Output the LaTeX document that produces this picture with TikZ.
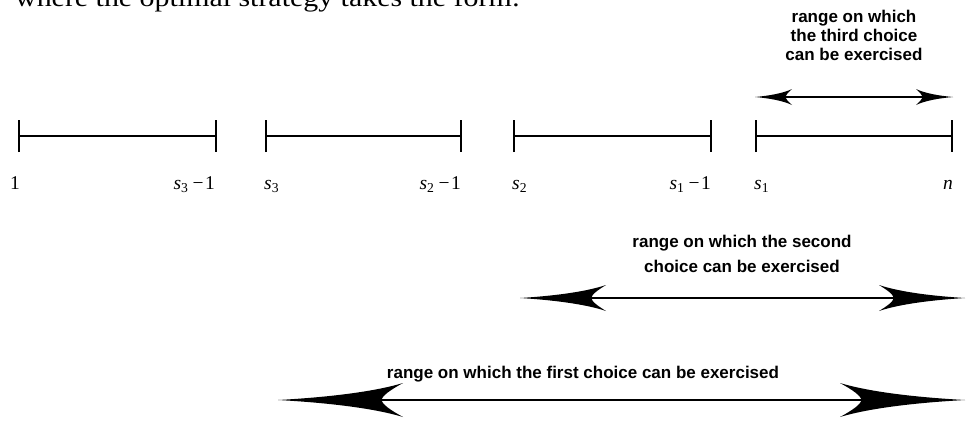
\documentclass[tikz,border=0pt]{standalone}
\usepackage{fontspec}
\setmainfont{Liberation Serif}
\newfontfamily\labfont{Liberation Sans}
\usetikzlibrary{arrows.meta}

\pgfdeclarearrow{
  name = Swoosh,
  parameters = {\the\pgfarrowlength,\the\pgfarrowwidth},
  setup code = {
    \pgfarrowssettipend{0pt}
    \pgfarrowssetbackend{-\pgfarrowlength}
    \pgfarrowssetlineend{-0.75\pgfarrowlength}
    \pgfarrowssavethe\pgfarrowlength
    \pgfarrowssavethe\pgfarrowwidth
  },
  drawing code = {
    \pgfpathmoveto{\pgfqpoint{0pt}{0pt}}
    \pgfpathcurveto{\pgfpoint{-0.35\pgfarrowlength}{0.07\pgfarrowwidth}}{\pgfpoint{-0.75\pgfarrowlength}{0.22\pgfarrowwidth}}{\pgfpoint{-\pgfarrowlength}{0.5\pgfarrowwidth}}
    \pgfpathcurveto{\pgfpoint{-0.9\pgfarrowlength}{0.3\pgfarrowwidth}}{\pgfpoint{-0.83\pgfarrowlength}{0.12\pgfarrowwidth}}{\pgfpoint{-0.83\pgfarrowlength}{0pt}}
    \pgfpathcurveto{\pgfpoint{-0.83\pgfarrowlength}{-0.12\pgfarrowwidth}}{\pgfpoint{-0.9\pgfarrowlength}{-0.3\pgfarrowwidth}}{\pgfpoint{-\pgfarrowlength}{-0.5\pgfarrowwidth}}
    \pgfpathcurveto{\pgfpoint{-0.75\pgfarrowlength}{-0.22\pgfarrowwidth}}{\pgfpoint{-0.35\pgfarrowlength}{-0.07\pgfarrowwidth}}{\pgfqpoint{0pt}{0pt}}
    \pgfpathclose
    \pgfusepathqfill
  },
  defaults = {length=30pt, width=12pt}
}

\newcommand\smone[1]{\textit{s}\textsubscript{#1}\kern4pt−\kern1.5pt1}
\newcommand\sone[1]{\textit{s}\textsubscript{#1}}

\tikzset{
  segline/.style={line width=1.4pt, {Bar[width=32pt,line width=1.8pt]}-{Bar[width=32pt,line width=1.8pt]}},
  ptlabel/.style={inner sep=0pt, font=\fontsize{19.5}{22}\selectfont},
  rangetext/.style={inner sep=0pt, align=center, font=\labfont\bfseries\fontsize{17}{19}\selectfont},
  rangearrow/.style n args={3}{line width=#1, {Swoosh[length=#2,width=#3]}-{Swoosh[length=#2,width=#3]}},
}

\begin{document}
\begin{tikzpicture}[x=1pt,y=-1pt]
\useasboundingbox (0,0) rectangle (971,424);

% cut-off text line at the top
\node[anchor=base west, inner sep=0pt, font=\fontsize{26}{30}\selectfont] (intro) at (15,6)
  {\scalebox{1.15}[1]{where the optimal strategy takes the form:}};

% segments
\coordinate (a1) at (18,136);  \coordinate (b1) at (217,136);
\coordinate (a2) at (265,136); \coordinate (b2) at (462,136);
\coordinate (a3) at (513,136); \coordinate (b3) at (712,136);
\coordinate (a4) at (755,136); \coordinate (b4) at (953,136);
\draw[segline] (a1) -- (b1);
\draw[segline] (a2) -- (b2);
\draw[segline] (a3) -- (b3);
\draw[segline] (a4) -- (b4);

% labels
\node[ptlabel, anchor=base] (l1) at (15,189) {1};
\node[ptlabel, anchor=base east] (l2) at (215,189) {\smone{3}};
\node[ptlabel, anchor=base west] (l3) at (264,189) {\sone{3}};
\node[ptlabel, anchor=base east] (l4) at (461,189) {\smone{2}};
\node[ptlabel, anchor=base west] (l5) at (512,189) {\sone{2}};
\node[ptlabel, anchor=base east] (l6) at (711,189) {\smone{1}};
\node[ptlabel, anchor=base west] (l7) at (754,189) {\sone{1}};
\node[ptlabel, anchor=base east] (l8) at (953,189) {\textit{n}};

% third choice (base anchor = last line)
\node[rangetext, anchor=base] (t3) at (854,60) {range on which\\the third choice\\can be exercised};
\coordinate (r3a) at (755,97); \coordinate (r3b) at (953,97);
\draw[rangearrow={1.3pt}{37pt}{16pt}] (r3a) -- (r3b);

% second choice
\node[rangetext, anchor=base, font=\labfont\bfseries\fontsize{17}{24.5}\selectfont] (t2) at (742,272) {range on which the second\\choice can be exercised};
\coordinate (r2a) at (520,298); \coordinate (r2b) at (965,298);
\draw[rangearrow={1.5pt}{86pt}{26pt}] (r2a) -- (r2b);

% first choice
\node[rangetext, anchor=base] (t1) at (583,378.5) {range on which the first choice can be exercised};
\coordinate (r1a) at (278,400); \coordinate (r1b) at (965,400);
\draw[rangearrow={1.8pt}{125pt}{34pt}] (r1a) -- (r1b);
\end{tikzpicture}
\end{document}
